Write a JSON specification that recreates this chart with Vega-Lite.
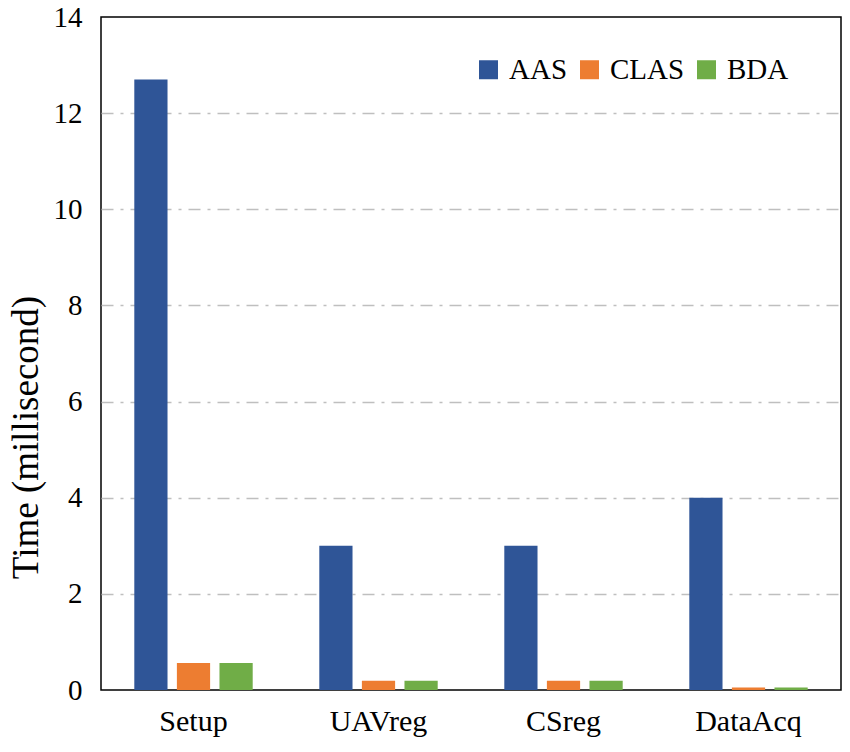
{
  "$schema": "https://vega.github.io/schema/vega-lite/v6.json",
  "width": 740,
  "height": 673,
  "autosize": {"type": "none"},
  "padding": {"left": 101, "top": 17, "right": 9, "bottom": 62},
  "background": "white",
  "config": {
    "view": {"stroke": "black", "strokeWidth": 1.5},
    "font": "Liberation Serif"
  },
  "data": {
    "values": [
      {"task": "Setup", "scheme": "AAS", "time": 12.7},
      {"task": "Setup", "scheme": "CLAS", "time": 0.56},
      {"task": "Setup", "scheme": "BDA", "time": 0.56},
      {"task": "UAVreg", "scheme": "AAS", "time": 3.0},
      {"task": "UAVreg", "scheme": "CLAS", "time": 0.19},
      {"task": "UAVreg", "scheme": "BDA", "time": 0.19},
      {"task": "CSreg", "scheme": "AAS", "time": 3.0},
      {"task": "CSreg", "scheme": "CLAS", "time": 0.19},
      {"task": "CSreg", "scheme": "BDA", "time": 0.19},
      {"task": "DataAcq", "scheme": "AAS", "time": 4.0},
      {"task": "DataAcq", "scheme": "CLAS", "time": 0.05},
      {"task": "DataAcq", "scheme": "BDA", "time": 0.05}
    ]
  },
  "mark": {"type": "bar"},
  "encoding": {
    "x": {
      "field": "task",
      "type": "nominal",
      "sort": ["Setup", "UAVreg", "CSreg", "DataAcq"],
      "scale": {"paddingInner": 0.36, "paddingOuter": 0.18},
      "axis": {
        "title": null,
        "labelAngle": 0,
        "labelFontSize": 30,
        "labelColor": "black",
        "labelPadding": 16,
        "ticks": false,
        "domain": false
      }
    },
    "xOffset": {
      "field": "scheme",
      "type": "nominal",
      "sort": ["AAS", "CLAS", "BDA"],
      "scale": {"paddingInner": 0.22}
    },
    "y": {
      "field": "time",
      "type": "quantitative",
      "scale": {"domain": [0, 14], "nice": false},
      "axis": {
        "title": "Time (millisecond)",
        "titleFontSize": 37,
        "titleFontWeight": "normal",
        "titleColor": "black",
        "titlePadding": 8,
        "titleY": 420,
        "values": [0, 2, 4, 6, 8, 10, 12, 14],
        "labelFontSize": 29,
        "labelColor": "black",
        "labelPadding": 19,
        "ticks": false,
        "domain": false,
        "grid": true,
        "gridColor": "#bfbfbf",
        "gridWidth": 1.5,
        "gridDash": [12, 7, 3, 7],
        "gridOpacity": {"condition": {"test": "datum.value === 0 || datum.value === 14", "value": 0}, "value": 1}
      }
    },
    "color": {
      "field": "scheme",
      "type": "nominal",
      "sort": ["AAS", "CLAS", "BDA"],
      "scale": {"domain": ["AAS", "CLAS", "BDA"], "range": ["#2F5597", "#ED7D31", "#70AD47"]},
      "legend": {
        "title": null,
        "orient": "none",
        "legendX": 373,
        "legendY": 38,
        "direction": "horizontal",
        "symbolType": "square",
        "symbolSize": 361,
        "symbolStrokeWidth": 0,
        "labelFontSize": 29,
        "labelColor": "black",
        "labelOffset": 6,
        "columnPadding": 7
      }
    }
  }
}
